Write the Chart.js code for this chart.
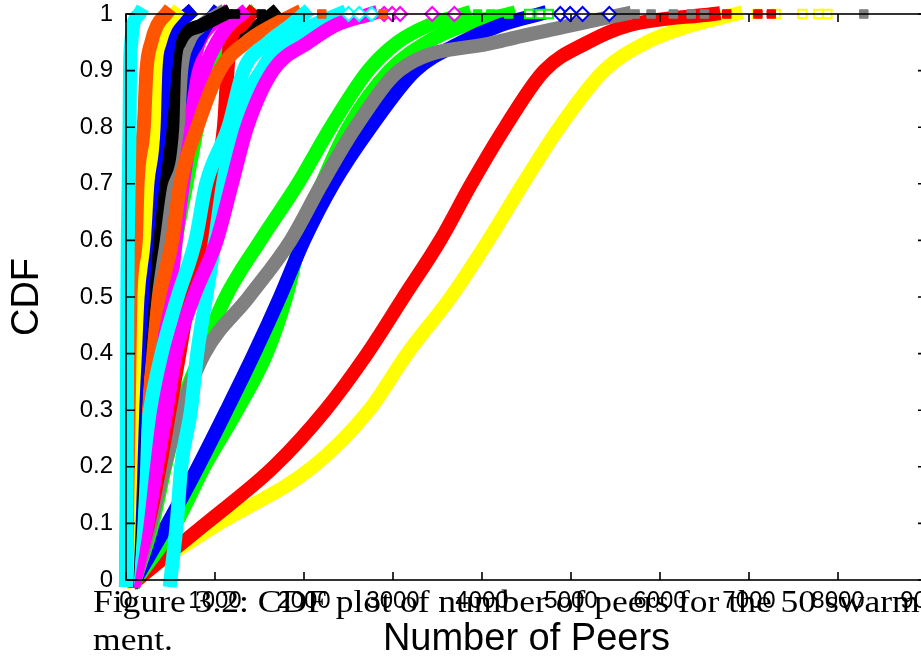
<!DOCTYPE html>
<html><head><meta charset="utf-8">
<script src="https://cdn.jsdelivr.net/npm/chart.js@4"></script>
<style>
html,body{margin:0;padding:0;background:#fff;overflow:hidden;}
#wrap{position:relative;width:921px;height:660px;overflow:hidden;background:#fff;}
#c{position:absolute;left:0;top:0;}
.cap{position:absolute;left:93px;font-family:"Liberation Serif","Times New Roman",serif;font-size:32px;line-height:38px;color:#000;white-space:nowrap;transform:scaleX(1.11);transform-origin:0 0;z-index:2;}
</style></head><body>
<div id="wrap">
<canvas id="c" width="960" height="660"></canvas>
<div class="cap" style="top:582px">Figure 3.2: CDF plot of number of peers for the 50 swarms</div>
<div class="cap" style="top:620px">ment.</div>
</div>
<script>
// CDF levels shared by every series
const yLevels = [0, 0.1, 0.2, 0.3, 0.4, 0.5, 0.6, 0.7, 0.8, 0.9, 0.95, 0.98, 1];
const xTickLabels = ['0','1000','2000','3000','4000','5000','6000','7000','8000','9000'];
const yTickLabels = ['0','0.1','0.2','0.3','0.4','0.5','0.6','0.7','0.8','0.9','1'];

// Number of peers at each CDF level
const yellowA  = [50, 1050, 2100, 2730, 3160, 3650, 4070, 4460, 4870, 5370, 5850, 6350, 6850];
const redA     = [120, 900, 1660, 2240, 2710, 3120, 3530, 3880, 4260, 4700, 5190, 5650, 6600];
const greenB   = [110, 560, 880, 1250, 1580, 1800, 1960, 2200, 2500, 2960, 3380, 3800, 4300];
const blueA    = [100, 470, 810, 1130, 1440, 1730, 2000, 2330, 2750, 3250, 3770, 4200, 4650];
const greenA   = [100, 300, 440, 600, 850, 1120, 1510, 1930, 2300, 2720, 3050, 3400, 3800];
const grayA    = [100, 280, 430, 620, 880, 1380, 1850, 2200, 2580, 3070, 4150, 5000, 5600];
const blackC   = [40, 130, 190, 250, 320, 400, 480, 560, 680, 900, 1250, 1500, 1650];
const greenC   = [60, 180, 260, 330, 400, 470, 560, 680, 800, 930, 1080, 1250, 1400];
const redB     = [80, 250, 380, 490, 600, 710, 860, 980, 1100, 1140, 1170, 1300, 1400];
const magentaC = [40, 120, 180, 240, 300, 360, 440, 520, 620, 740, 820, 950, 1100];
const blueB    = [20, 80, 130, 180, 230, 290, 360, 440, 560, 660, 800, 900, 1000];
const grayB    = [30, 100, 150, 200, 260, 320, 400, 480, 580, 620, 700, 850, 1050];
const magentaB = [60, 200, 280, 350, 420, 490, 560, 640, 740, 880, 1020, 1150, 1300];
const orangeB  = [20, 70, 110, 160, 240, 370, 520, 610, 800, 1050, 1350, 1650, 1900];
const cyanD    = [500, 570, 620, 730, 800, 900, 1000, 1090, 1220, 1520, 1770, 2100, 2400];
const magentaA = [100, 240, 345, 455, 560, 760, 1020, 1190, 1360, 1650, 2050, 2350, 2750];
const cyanB    = [20, 120, 190, 270, 400, 580, 780, 900, 1150, 1320, 1600, 1850, 2000];
const blackB   = [10, 50, 80, 100, 150, 210, 300, 390, 520, 540, 600, 850, 1100];
const blackA   = [10, 40, 60, 80, 120, 170, 230, 310, 420, 440, 480, 560, 700];
const blueC    = [5, 40, 70, 100, 140, 180, 230, 300, 380, 440, 480, 560, 700];
const yellowB  = [5, 30, 50, 70, 100, 130, 200, 240, 310, 330, 380, 450, 550];
const orangeA  = [0, 10, 20, 30, 40, 50, 110, 130, 200, 230, 285, 350, 450];
const cyanA    = [0, 5, 8, 10, 12, 15, 20, 30, 40, 45, 60, 80, 150];

// Isolated largest values drawn as markers on the CDF = 1 line
const yellowTail  = [7090, 7300, 7600, 7780, 7880];
const redTail     = [6750, 7100, 7250];
const grayTail    = [5720, 5900, 6150, 6350, 6500, 8290];
const blueTail    = [4880, 4990, 5130, 5430];
const greenATail  = [3950, 4100, 4300];
const greenBTail  = [4530, 4650, 4750];
const magentaTail = [2900, 2990, 3080, 3440, 3690];
const cyanTail    = [2500, 2620, 2760];
const blackTail   = [1150, 1230, 1520];
const orangeTail  = [2200, 2890];

const C = {red:'#ff0000', green:'#00ff00', blue:'#0000ff', magenta:'#ff00ff', cyan:'#00ffff',
           orange:'#ff5500', gray:'#808080', yellow:'#ffff00', black:'#000000'};

// painter's order: first = bottom
const lineSeries = [
  [yellowA, C.yellow], [redA, C.red], [greenB, C.green], [blueA, C.blue],
  [greenA, C.green], [grayA, C.gray], [blackC, C.black], [greenC, C.green],
  [redB, C.red], [magentaC, C.magenta], [blueB, C.blue], [grayB, C.gray],
  [magentaB, C.magenta], [orangeB, C.orange], [cyanD, C.cyan], [magentaA, C.magenta],
  [cyanB, C.cyan], [blackB, C.black], [blackA, C.black], [blueC, C.blue],
  [yellowB, C.yellow], [orangeA, C.orange], [cyanA, C.cyan]
];
const tailSeries = [
  [yellowTail, C.yellow, 'rect', true], [redTail, C.red, 'rect', false],
  [grayTail, C.gray, 'rect', false], [blueTail, C.blue, 'rectRot', true],
  [greenATail, C.green, 'rect', false], [greenBTail, C.green, 'rect', true],
  [magentaTail, C.magenta, 'rectRot', true], [cyanTail, C.cyan, 'rectRot', true],
  [blackTail, C.black, 'rect', false], [orangeTail, C.orange, 'rect', false]
];

const xTickValues = xTickLabels.map(Number);
const yTickValues = yTickLabels.map(Number);

const datasets = [];
lineSeries.forEach(([xs, col]) => {
  datasets.push({
    type: 'line',
    data: xs.map((v, i) => ({x: v, y: yLevels[i]})),
    borderColor: col, backgroundColor: col, borderWidth: 14,
    pointRadius: 0, fill: false, cubicInterpolationMode: 'monotone',
    borderJoinStyle: 'round', borderCapStyle: 'square', clip: false
  });
});
tailSeries.forEach(([xs, col, style, hollow]) => {
  datasets.push({
    type: 'scatter',
    data: xs.map(v => ({x: v, y: 1})),
    showLine: false, pointStyle: style, pointRadius: style === 'rectRot' ? 7 : 6,
    pointBackgroundColor: hollow ? '#ffffff' : col, pointBorderColor: col,
    pointBorderWidth: hollow ? 2 : 1, clip: false
  });
});
const N = datasets.length;
datasets.forEach((d, i) => { d.order = N - i; });

const framePlugin = {
  id: 'frame',
  afterDatasetsDraw(chart) {
    const {ctx, chartArea: {left, right, top, bottom}, scales: {x, y}} = chart;
    ctx.save();
    ctx.strokeStyle = '#000';
    ctx.lineWidth = 1.6;
    ctx.beginPath();
    xTickValues.forEach(v => {
      const p = x.getPixelForValue(v);
      ctx.moveTo(p, bottom); ctx.lineTo(p, bottom - 8);
      ctx.moveTo(p, top); ctx.lineTo(p, top + 8);
    });
    yTickValues.forEach(v => {
      const p = y.getPixelForValue(v);
      ctx.moveTo(left, p); ctx.lineTo(left + 9, p);
      ctx.moveTo(right, p); ctx.lineTo(right - 9, p);
    });
    ctx.stroke();
    ctx.strokeRect(left, top, right - left, bottom - top);
    ctx.restore();
  }
};

const sans = "'Liberation Sans', Arial, Helvetica, sans-serif";
new Chart(document.getElementById('c'), {
  type: 'line',
  data: {datasets},
  options: {
    responsive: false, animation: false, devicePixelRatio: 1, events: [],
    layout: {padding: {left: 0, right: 33, top: 14, bottom: 0}},
    plugins: {legend: {display: false}, tooltip: {enabled: false}},
    scales: {
      x: {
        type: 'linear', min: 0, max: 9000,
        grid: {display: false, drawTicks: false}, border: {display: false},
        afterBuildTicks: s => { s.ticks = xTickValues.map(v => ({value: v})); },
        afterFit: s => { s.height = 80; s.paddingLeft = 0; s.paddingRight = 0; },
        ticks: {autoSkip: false, maxRotation: 0, minRotation: 0, padding: 7, color: '#000',
                font: {family: sans, size: 24}, callback: (v, i) => xTickLabels[i]},
        title: {display: true, text: 'Number of Peers', color: '#000',
                font: {family: sans, size: 38, lineHeight: 1}, padding: {top: 0, bottom: 1}}
      },
      y: {
        type: 'linear', min: 0, max: 1,
        grid: {display: false, drawTicks: false}, border: {display: false},
        afterBuildTicks: s => { s.ticks = yTickValues.map(v => ({value: v})); },
        afterFit: s => { s.width = 126; s.paddingTop = 0; s.paddingBottom = 0; },
        ticks: {autoSkip: false, padding: 13, color: '#000',
                font: {family: sans, size: 24}, callback: (v, i) => yTickLabels[i]},
        title: {display: true, text: 'CDF', color: '#000',
                font: {family: sans, size: 38, lineHeight: 1}, padding: {top: 9, bottom: 0}}
      }
    }
  },
  plugins: [framePlugin]
});
</script>
</body></html>
